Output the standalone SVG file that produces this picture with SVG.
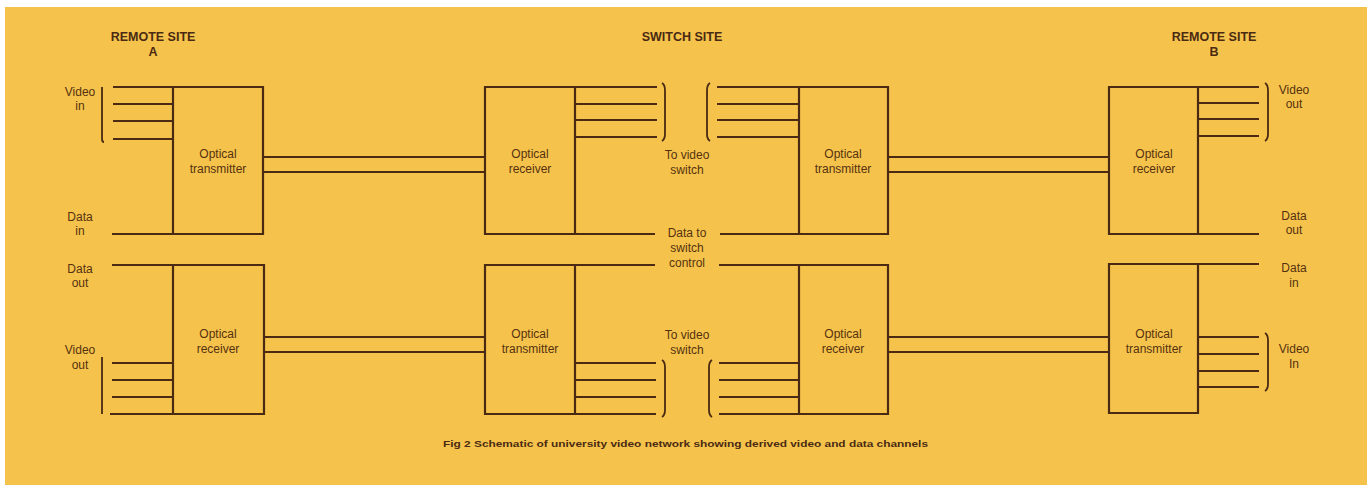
<svg xmlns="http://www.w3.org/2000/svg" width="1371" height="485" viewBox="0 0 1371 485">
<style>
.ln{stroke:#4a2a12;stroke-width:2.2;fill:none;stroke-linecap:butt}
.br{stroke:#4a2a12;stroke-width:1.8;fill:none}
.t{font-family:"Liberation Sans",Arial,sans-serif;font-size:12px;fill:#55310f;text-anchor:middle}
.h{font-family:"Liberation Sans",Arial,sans-serif;font-size:12.5px;font-weight:bold;fill:#4a2a12;text-anchor:middle}
.c{font-family:"Liberation Sans",Arial,sans-serif;font-size:9.5px;font-weight:bold;fill:#4a2a12}
</style>
<rect x="0" y="0" width="1371" height="485" fill="#ffffff"/>
<rect x="5" y="7" width="1362" height="478" fill="#f5c34c"/>
<g id="headings">
<text class="h" x="153" y="41">REMOTE SITE</text>
<text class="h" x="153" y="56">A</text>
<text class="h" x="682" y="41">SWITCH SITE</text>
<text class="h" x="1214" y="41">REMOTE SITE</text>
<text class="h" x="1214" y="56">B</text>
</g>
<g id="tx-a">
<path class="ln" d="M173 87H263V234H173Z"/>
<text class="t" x="218" y="158">Optical</text>
<text class="t" x="218" y="173">transmitter</text>
</g>
<g id="rx-a">
<path class="ln" d="M173 265H264V414H173Z"/>
<text class="t" x="218" y="338">Optical</text>
<text class="t" x="218" y="353">receiver</text>
</g>
<g id="rx-s">
<path class="ln" d="M485 87H575V234H485Z"/>
<text class="t" x="530" y="158">Optical</text>
<text class="t" x="530" y="173">receiver</text>
</g>
<g id="tx-s">
<path class="ln" d="M799 87H888V234H799Z"/>
<text class="t" x="843" y="158">Optical</text>
<text class="t" x="843" y="173">transmitter</text>
</g>
<g id="tx-s2">
<path class="ln" d="M485 265H575V414H485Z"/>
<text class="t" x="530" y="338">Optical</text>
<text class="t" x="530" y="353">transmitter</text>
</g>
<g id="rx-s2">
<path class="ln" d="M799 265H888V414H799Z"/>
<text class="t" x="843" y="338">Optical</text>
<text class="t" x="843" y="353">receiver</text>
</g>
<g id="rx-b">
<path class="ln" d="M1109 87H1198V234H1109Z"/>
<text class="t" x="1154" y="158">Optical</text>
<text class="t" x="1154" y="173">receiver</text>
</g>
<g id="tx-b">
<path class="ln" d="M1109 264H1198V413H1109Z"/>
<text class="t" x="1154" y="338">Optical</text>
<text class="t" x="1154" y="353">transmitter</text>
</g>
<g id="connectors">
<path class="ln" d="M113 87H173M113 104H173M113 121H173M113 139H173M112 234H173"/>
<path class="br" d="M102 87V139Q102 142 104 142"/>
<path class="ln" d="M263 157H485M263 172H485"/>
<path class="ln" d="M888 157H1109M888 172H1109"/>
<path class="ln" d="M575 87H657M575 104H657M575 120H657M575 137H657M575 234H655"/>
<path class="br" d="M662 83Q665 85 665 90V134Q665 139 662 141"/>
<path class="ln" d="M717 87H799M717 104H799M717 120H799M717 137H799M720 234H799"/>
<path class="br" d="M710 83Q707 85 707 90V134Q707 139 710 141"/>
<path class="ln" d="M1198 87H1259M1198 103H1259M1198 119H1259M1198 136H1259M1198 234H1259"/>
<path class="br" d="M1265 83Q1268 85 1268 90V134Q1268 139 1265 141"/>
<path class="ln" d="M112 265H173M112 363H173M112 380H173M112 397H173M110 414H173"/>
<path class="br" d="M102 357V414"/>
<path class="ln" d="M264 337H485M264 352H485"/>
<path class="ln" d="M888 337H1109M888 352H1109"/>
<path class="ln" d="M575 265H655M575 363H656M575 380H656M575 397H656M575 414H656"/>
<path class="br" d="M662 360Q665 362 665 367V410Q665 415 662 417"/>
<path class="ln" d="M719 265H799M719 363H799M719 380H799M719 397H799M719 414H799"/>
<path class="br" d="M712 360Q709 362 709 367V410Q709 415 712 417"/>
<path class="ln" d="M1198 264H1259M1198 337H1259M1198 354H1259M1198 371H1259M1198 387H1259"/>
<path class="br" d="M1265 333Q1268 335 1268 340V384Q1268 389 1265 391"/>
</g>
<g id="labels">
<text class="t" x="80" y="96">Video</text>
<text class="t" x="80" y="110">in</text>
<text class="t" x="80" y="221">Data</text>
<text class="t" x="80" y="235">in</text>
<text class="t" x="80" y="273">Data</text>
<text class="t" x="80" y="287">out</text>
<text class="t" x="80" y="354">Video</text>
<text class="t" x="80" y="369">out</text>
<text class="t" x="687" y="159">To video</text>
<text class="t" x="687" y="174">switch</text>
<text class="t" x="687" y="237">Data to</text>
<text class="t" x="687" y="252">switch</text>
<text class="t" x="687" y="267">control</text>
<text class="t" x="687" y="339">To video</text>
<text class="t" x="687" y="354">switch</text>
<text class="t" x="1294" y="94">Video</text>
<text class="t" x="1294" y="108">out</text>
<text class="t" x="1294" y="220">Data</text>
<text class="t" x="1294" y="234">out</text>
<text class="t" x="1294" y="272">Data</text>
<text class="t" x="1294" y="287">in</text>
<text class="t" x="1294" y="353">Video</text>
<text class="t" x="1294" y="368">In</text>
</g>
<text class="c" x="443" y="447" textLength="485" lengthAdjust="spacingAndGlyphs">Fig 2  Schematic of university video network showing derived video and data channels</text>
</svg>
